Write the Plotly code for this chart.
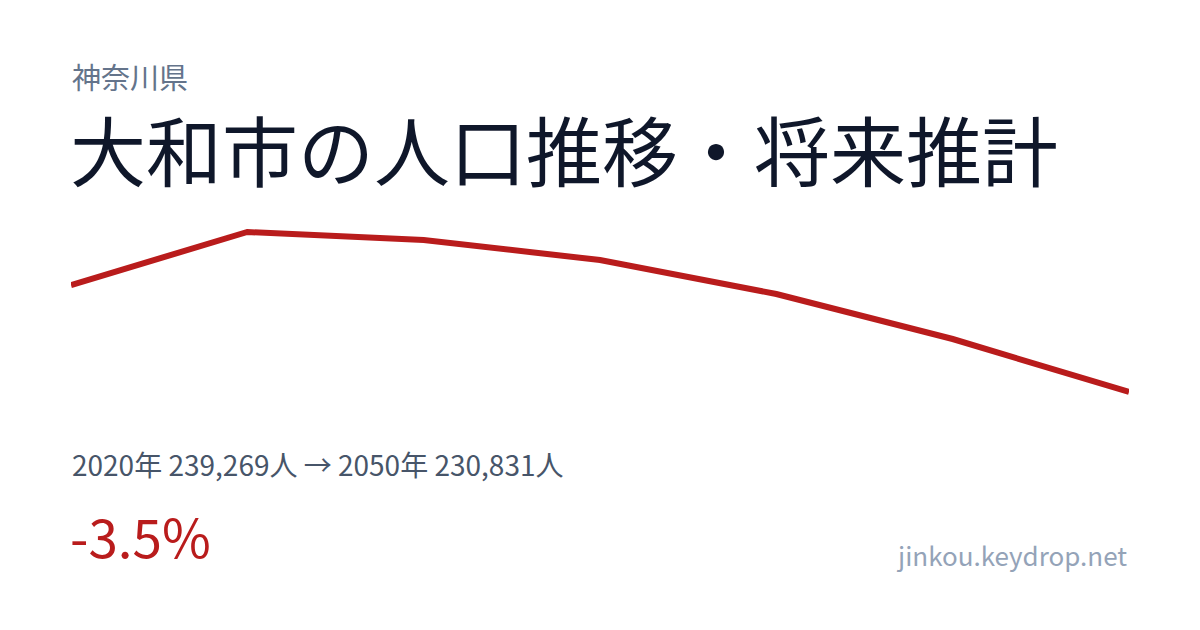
import plotly.graph_objects as go

years = [2020, 2025, 2030, 2035, 2040, 2045, 2050]
population = [239269, 243450, 242820, 241240, 238560, 235010, 230831]

prefecture = "神奈川県"
title = "大和市の人口推移・将来推計"
summary = "2020年 239,269人 → 2050年 230,831人"
change = "-3.5%"
site = "jinkou.keydrop.net"

W, H = 1200, 630
OFF = 8  # page body margin
ML, MR, MT, MB = 71 - OFF, 71 + OFF, 222 - OFF, 228 + OFF
ph = H - MT - MB
pw = W - ML - MR

vmin, vmax = min(population), max(population)
pad = (vmax - vmin) * 10 / 160

def py(p):
    return (H - MB - (p - OFF)) / ph

def px(p):
    return ((p - OFF) - ML) / pw

FONT = "Noto Sans CJK JP"

fig = go.Figure()
fig.add_trace(go.Scatter(
    x=years, y=population, mode="lines",
    line=dict(color="#b91c1c", width=6),
    hoverinfo="skip",
))

annos = [
    dict(text=prefecture, x=px(70), y=py(76), size=29, color="#64748b", xanchor="left"),
    dict(text=title, x=px(68), y=py(148), size=76, color="#0f172a", xanchor="left"),
    dict(text=summary, x=px(70), y=py(464), size=28, color="#475569", xanchor="left"),
    dict(text=change, x=px(68), y=py(535), size=53, color="#b91c1c", xanchor="left"),
    dict(text=site, x=px(1129), y=py(554), size=26, color="#94a3b8", xanchor="right"),
]
for a in annos:
    fig.add_annotation(
        text=a["text"], x=a["x"], y=a["y"], xref="paper", yref="paper",
        xanchor=a["xanchor"], yanchor="middle", showarrow=False,
        font=dict(family=FONT, size=a["size"], color=a["color"]),
    )

fig.update_layout(
    width=W, height=H,
    margin=dict(l=ML, r=MR, t=MT, b=MB),
    paper_bgcolor="white", plot_bgcolor="white",
    showlegend=False,
    xaxis=dict(visible=False, range=[years[0], years[-1]]),
    yaxis=dict(visible=False, range=[vmin - pad, vmax + pad]),
)

fig.write_html("out.html", config={"displayModeBar": False})
